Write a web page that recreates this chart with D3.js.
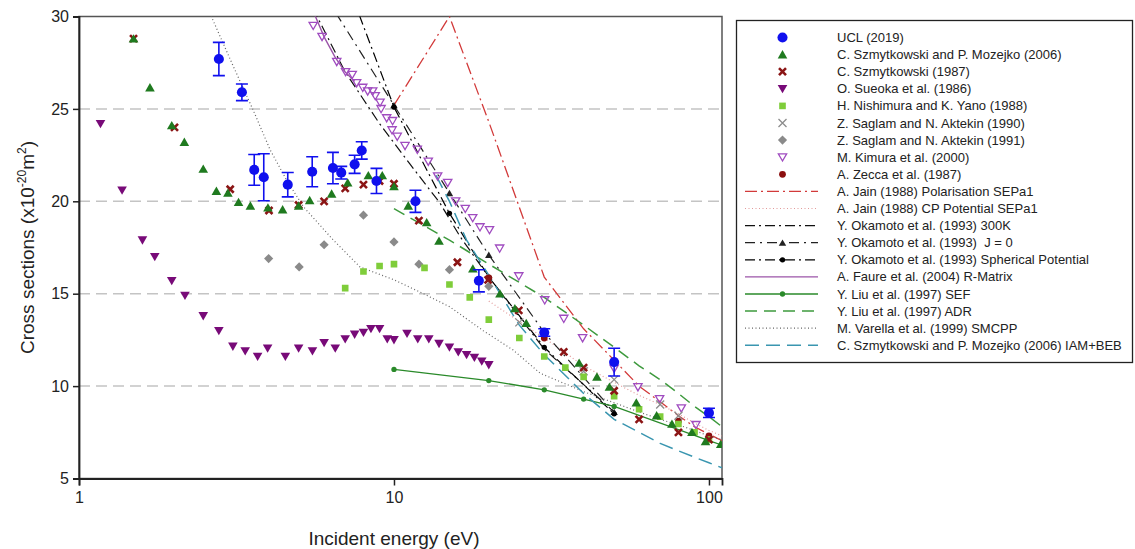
<!DOCTYPE html>
<html>
<head>
<meta charset="utf-8">
<script src="https://cdn.jsdelivr.net/npm/d3@7"></script>
<style>
  body { margin: 0; background: #fff; }
  svg { font-family: "Liberation Sans", Arial, sans-serif; }
</style>
</head>
<body>
<div id="chart"></div>
<script>
// ---- data: [energy eV, cross section] ----
var ucl = [[2.78,27.7,0.9],[3.29,25.9,0.45],[3.6,21.7,0.83],[3.86,21.3,1.27],[4.6,20.9,0.66],[5.5,21.6,0.81],
           [6.4,21.8,0.85],[6.8,21.55,0.34],[7.5,22.0,0.49],[7.9,22.75,0.47],[8.8,21.1,0.68],[11.7,20.0,0.6],
           [18.6,15.7,0.6],[30,12.9,0.2],[50,11.3,0.75],[100,8.55,0.25]];
var szmMoz06 = [[1.49,28.8],[1.68,26.15],[1.97,24.1],[2.16,23.2],[2.48,21.75],[2.73,20.55],[2.97,20.45],[3.21,19.95],
           [3.5,19.75],[3.98,19.65],[4.43,19.55],[4.98,19.75],[5.4,20.05],[6.34,20.4],[7.13,21.0],[8.29,21.4],
           [9.18,21.4],[10,20.8],[11.1,19.75],[12.7,18.85],[13.9,17.85],[17.8,16.35],[21.7,15.0],[24.2,14.2],
           [26.3,13.4],[38.7,11.25],[44.1,10.5],[48.3,9.95],[58.8,9.1],[68.2,8.4],[76.3,7.95],[88.3,7.5],
           [97.5,7.0],[109,6.85]];
var szm87 = [[1.49,28.8],[2.01,24.0],[3.02,20.65],[4.01,19.5],[4.98,19.8],[6.0,20.0],[7.0,20.7],[8.0,20.9],
           [9.0,21.1],[10,20.95],[12,18.95],[15.9,16.7],[19.9,15.75],[24.9,14.1],[34.6,11.85],[40,11.0],
           [50,9.75],[60,8.2],[80,7.5],[100,7.1]];
var sueoka86 = [[1.17,24.2],[1.37,20.6],[1.59,17.9],[1.74,17.0],[1.97,15.7],[2.17,14.9],[2.48,13.8],[2.78,13.0],
           [3.08,12.15],[3.37,11.9],[3.69,11.6],[3.97,12.05],[4.52,11.6],[4.98,12.05],[5.51,11.9],[6.0,12.35],
           [6.51,12.05],[7.0,12.55],[7.5,12.8],[8.0,12.9],[8.45,13.1],[9.0,13.1],[9.52,12.55],[10,12.5],
           [11,12.85],[11.9,12.55],[12.9,12.55],[13.9,12.3],[15,12.1],[16,11.85],[17,11.7],[18,11.55],
           [19,11.35],[20,11.15]];
var nishimura88 = [[7,15.3],[8,16.2],[9,16.5],[10,16.6],[12.5,16.4],[15,15.5],[17.4,14.8],[20,13.6],[25,12.6],
           [30,11.6],[35,11.0],[40,10.5],[50,9.45],[60,8.75],[70,8.35],[80,7.95],[90,7.5],[100,7.1]];
var saglam90 = [[25,13.45],[40,10.8],[50,10.35],[70,9.0],[80,8.4]];
var saglam91 = [[4,16.9],[5,16.45],[6,17.65],[8,19.25],[10,17.8],[12,16.6],[15,16.3],[20,15.4]];
var kimura00 = [[5.54,29.5],[5.91,28.9],[6.58,27.55],[7.02,27.0],[7.37,26.85],[7.61,26.4],[7.96,26.15],[8.25,25.95],
           [8.56,25.95],[8.72,25.7],[9.03,25.35],[9.1,25.0],[9.48,24.5],[9.86,23.85],[9.9,24.35],[10.24,23.5],
           [10.84,23.0],[11.86,22.8],[12.85,22.15],[13.76,21.35],[14.81,21.0],[15.7,20.0],[16.84,19.6],
           [17.78,19.1],[18.75,18.6],[20.1,18.45],[21.65,17.45],[24.9,15.95],[30.1,14.65],[34.6,13.65],
           [39.7,12.6],[50,10.95],[59.5,9.95],[69.7,9.3],[81.7,8.8],[90.9,7.9]];
var zecca87 = [[20,15.85],[30,12.6],[80,8.1],[100,7.3]];

var jainPol = [[10,25.2],[15,30.0],[20,24.3],[30,15.9],[40,13.1],[50,11.4],[60,10.0],[70,9.15],[80,8.4],
           [90,7.8],[100,7.4],[110,7.05]];
var jainCP = [[20,14.6],[30,12.6],[40,11.1],[50,10.2],[60,9.5],[70,9.0],[80,8.5],[90,8.0],[100,7.6],[110,7.3]];
var okamoto300K = [[5,32.5],[5.7,30],[7,27.0],[9,24.2],[11.2,22.05],[14,19.9],[16.2,18.1],[20,15.9],[30,12.0],[50,8.6]];
var okamotoJ0 = [[6,31.2],[10,25.2],[15,20.45],[20,17.1],[30,12.9],[50,8.6]];
var okamotoSph = [[7,32.1],[10,25.1],[15,19.35],[20,15.9],[30,12.1],[50,8.5]];
var faure04 = [[5.6,30.1],[6,28.9],[6.5,27.8],[7,27.0],[7.5,26.5]];
var liuSEF = [[10,10.9],[20,10.3],[30,9.8],[40,9.3],[50,8.9],[100,7.05],[150,6.0]];
var liuADR = [[10,19.6],[15,17.9],[20,16.6],[30,14.8],[40,13.3],[50,12.1],[60,11.1],[70,10.35],[80,9.6],
           [90,8.9],[100,8.35],[110,7.8]];
var varella99 = [[2.6,30.2],[3.09,27.3],[3.58,24.9],[4.04,22.8],[4.56,21.15],[5.16,19.7],[6.42,17.9],[7.8,16.45],
           [10,15.75],[12.4,15.0],[15,14.3],[19.2,13.0],[23.9,11.95],[29.1,10.7],[40,9.7],[50,9.1],[60,8.6],
           [70,8.2],[80,7.9],[90,7.6],[100,7.3],[110,7.1]];
var iamBeb = [[13.6,21.4],[15,20.0],[17,17.9],[20,16.0],[25,13.3],[30,11.7],[40,9.6],[50,8.2],[60,7.5],
           [70,6.9],[80,6.5],[90,6.15],[100,5.85],[110,5.58]];

var xTicks = [1, 10, 100];
var yTicks = [5, 10, 15, 20, 25, 30];
var gridValues = [10, 15, 20, 25];

// ---- series styling (legend order) ----
var series = [
  {name: "UCL (2019)", data: ucl, marker: "circle", color: "#1010ee", size: 80, err: true},
  {name: "C. Szmytkowski and P. Mozejko (2006)", data: szmMoz06, marker: "tri", color: "#1f7a1f", size: 40},
  {name: "C. Szmytkowski (1987)", data: szm87, marker: "xbold", color: "#8b1515"},
  {name: "O. Sueoka et al. (1986)", data: sueoka86, marker: "tridown", color: "#780a78", size: 40},
  {name: "H. Nishimura and K. Yano (1988)", data: nishimura88, marker: "square", color: "#7fcd3a", size: 44},
  {name: "Z. Saglam and N. Aktekin (1990)", data: saglam90, marker: "xthin", color: "#8c8c8c"},
  {name: "Z. Saglam and N. Aktekin (1991)", data: saglam91, marker: "diamond", color: "#8a8a8a"},
  {name: "M. Kimura et al. (2000)", data: kimura00, marker: "tridownopen", color: "#a04cc0", size: 30},
  {name: "A. Zecca et al. (1987)", data: zecca87, marker: "circle", color: "#8b0f0f", size: 36},
  {name: "A. Jain (1988) Polarisation SEPa1", data: jainPol, line: true, color: "#d23a3a", width: 1.3, dash: "12,4,2,4"},
  {name: "A. Jain (1988) CP Potential SEPa1", data: jainCP, line: true, color: "#e29a9a", width: 1.2, dash: "1,2.5"},
  {name: "Y. Okamoto et al. (1993) 300K", data: okamoto300K, line: true, color: "#111", width: 1.2, dash: "10,4,2,4"},
  {name: "Y. Okamoto et al. (1993)  J = 0", data: okamotoJ0, line: true, color: "#222", width: 1.2, dash: "10,5,2,5", marker: "tri", size: 24, skipFirst: true},
  {name: "Y. Okamoto et al. (1993) Spherical Potential", data: okamotoSph, line: true, color: "#000", width: 1.2, dash: "10,4,2,4", marker: "circle", size: 22, skipFirst: true},
  {name: "A. Faure et al. (2004) R-Matrix", data: faure04, line: true, color: "#9b55a8", width: 1.4},
  {name: "Y. Liu et al. (1997) SEF", data: liuSEF, line: true, color: "#2a8a2a", width: 1.3, marker: "circle", size: 22},
  {name: "Y. Liu et al. (1997) ADR", data: liuADR, line: true, color: "#3e9a3e", width: 1.5, dash: "12,7"},
  {name: "M. Varella et al. (1999) SMCPP", data: varella99, line: true, color: "#666", width: 1.2, dash: "1,2.5"},
  {name: "C. Szmytkowski and P. Mozejko (2006) IAM+BEB", data: iamBeb, line: true, color: "#3a96b0", width: 1.5, dash: "14,7"}
];

var W = 1135, H = 549;
var margin = {top: 16.5, left: 79, right: 413, bottom: 70.5};
var width = W - margin.left - margin.right,
    height = H - margin.top - margin.bottom;

var svg = d3.select("#chart").append("svg")
    .attr("width", W).attr("height", H);

var x = d3.scaleLog().domain([1, 110]).range([0, width]);
var y = d3.scaleLinear().domain([5, 30]).range([height, 0]);

var g = svg.append("g")
    .attr("transform", "translate(" + margin.left + "," + margin.top + ")");

g.append("clipPath").attr("id", "clip")
  .append("rect").attr("width", width).attr("height", height);

// gridlines
g.selectAll(".grid").data(gridValues).enter().append("line")
  .attr("x1", 0).attr("x2", width)
  .attr("y1", function(d) { return y(d); }).attr("y2", function(d) { return y(d); })
  .attr("stroke", "#c4c4c4").attr("stroke-width", 1.5).attr("stroke-dasharray", "11,6");

// frame (top / right)
g.append("rect").attr("width", width).attr("height", height)
  .attr("fill", "none").attr("stroke", "#555").attr("stroke-width", 1.5);

function markerPath(type, size) {
  if (type === "circle") return d3.symbol().type(d3.symbolCircle).size(size)();
  if (type === "tri" || type === "tridown" || type === "tridownopen") return d3.symbol().type(d3.symbolTriangle).size(size)();
  if (type === "square") return d3.symbol().type(d3.symbolSquare).size(size)();
  if (type === "diamond") return "M0,-4.6L4.6,0L0,4.6L-4.6,0Z";
  if (type === "xbold") return "M-3.5,-3.5L3.5,3.5M-3.5,3.5L3.5,-3.5";
  if (type === "xthin") return "M-4,-4L4,4M-4,4L4,-4";
}

function drawMarker(sel, s) {
  var open = s.marker === "tridownopen" || s.marker === "xbold" || s.marker === "xthin";
  sel.attr("d", markerPath(s.marker, s.size))
    .attr("transform", function(d) {
      var t = "translate(" + d.px + "," + d.py + ")";
      if (s.marker === "tridown" || s.marker === "tridownopen") t += " rotate(180)";
      if (s.marker === "tri" || s.marker === "tridown" || s.marker === "tridownopen") t += " translate(0,1)";
      return t;
    })
    .attr("fill", open ? "none" : s.color)
    .attr("stroke", open ? s.color : "none")
    .attr("stroke-width", s.marker === "xbold" ? 2.6 : 1.3);
}

var plot = g.append("g").attr("clip-path", "url(#clip)");

var lineGen = d3.line()
  .x(function(d) { return x(d[0]); })
  .y(function(d) { return y(d[1]); });

// lines first
series.filter(function(s) { return s.line; }).forEach(function(s) {
  plot.append("path").datum(s.data)
    .attr("d", lineGen)
    .attr("fill", "none")
    .attr("stroke", s.color)
    .attr("stroke-width", s.width)
    .attr("stroke-dasharray", s.dash || null);
  if (s.marker) {
    var pts = s.data.slice(s.skipFirst ? 1 : 0).map(function(d) { return {px: x(d[0]), py: y(d[1])}; });
    plot.selectAll(null).data(pts).enter().append("path").call(drawMarker, s);
  }
});

// scatter series, UCL last so it sits on top
series.filter(function(s) { return !s.line; }).slice().reverse().forEach(function(s) {
  var pts = s.data.map(function(d) { return {px: x(d[0]), py: y(d[1])}; });
  if (s.err) {
    var eb = plot.append("g").attr("stroke", s.color).attr("stroke-width", 1.6);
    s.data.forEach(function(d) {
      var cx = x(d[0]), y1 = y(d[1] + d[2]), y2 = y(d[1] - d[2]);
      eb.append("line").attr("x1", cx).attr("x2", cx).attr("y1", y1).attr("y2", y2);
      eb.append("line").attr("x1", cx - 6).attr("x2", cx + 6).attr("y1", y1).attr("y2", y1);
      eb.append("line").attr("x1", cx - 6).attr("x2", cx + 6).attr("y1", y2).attr("y2", y2);
    });
  }
  plot.selectAll(null).data(pts).enter().append("path").call(drawMarker, s);
});

// axes
var xAxis = d3.axisBottom(x).tickValues(xTicks).tickFormat(d3.format("d")).tickSize(7).tickPadding(6);
var yAxis = d3.axisLeft(y).tickValues(yTicks).tickSize(6).tickPadding(4);

var gx = g.append("g").attr("transform", "translate(0," + height + ")").call(xAxis);
var gy = g.append("g").call(yAxis);
[gx, gy].forEach(function(a) {
  a.select(".domain").attr("stroke", "#222").attr("stroke-width", 1.8);
  a.selectAll(".tick line").attr("stroke", "#222").attr("stroke-width", 1.5);
  a.selectAll(".tick text").attr("fill", "#222").style("font-size", "16px");
});

// axis titles
svg.append("text")
  .attr("x", margin.left + x(10)).attr("y", 545)
  .attr("text-anchor", "middle").attr("fill", "#222")
  .style("font-size", "19px")
  .text("Incident energy (eV)");

var yt = svg.append("text")
  .attr("transform", "translate(34," + (margin.top + height / 2) + ") rotate(-90)")
  .attr("text-anchor", "middle").attr("fill", "#222")
  .style("font-size", "19px");
yt.append("tspan").text("Cross sections (x10");
yt.append("tspan").attr("dy", -8).style("font-size", "12px").text("-20");
yt.append("tspan").attr("dy", 8).text("m");
yt.append("tspan").attr("dy", -8).style("font-size", "12px").text("2");
yt.append("tspan").attr("dy", 8).text(")");

// legend
var lg = svg.append("g");
lg.append("rect").attr("x", 736.5).attr("y", 20.5).attr("width", 396).attr("height", 342)
  .attr("fill", "#fff").attr("stroke", "#222").attr("stroke-width", 1.3);

series.forEach(function(s, i) {
  var ly = 37.5 + i * 17.1;
  if (s.line) {
    lg.append("line").attr("x1", 745).attr("x2", 818).attr("y1", ly).attr("y2", ly)
      .attr("stroke", s.color).attr("stroke-width", s.width)
      .attr("stroke-dasharray", s.dash || null);
  }
  if (s.marker) {
    lg.append("path").datum({px: 782.5, py: ly}).call(drawMarker, s);
  }
  lg.append("text").attr("x", 837).attr("y", ly + 4.5)
    .attr("fill", "#222").style("font-size", "13px")
    .style("white-space", "pre")
    .text(s.name);
});
</script>
</body>
</html>
